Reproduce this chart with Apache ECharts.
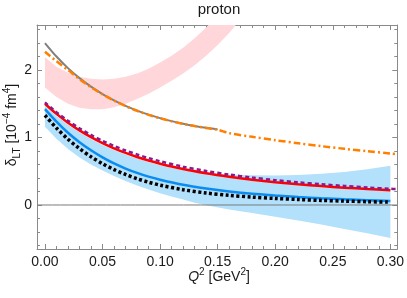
<!DOCTYPE html>
<html><head><meta charset="utf-8">
<script src="https://cdn.jsdelivr.net/npm/echarts@6/dist/echarts.min.js"></script>
<style>html,body{margin:0;padding:0;background:#fff}#c{width:407px;height:298px}</style>
</head><body><div id="c"></div>
<script>
// ---- tick labels / tick positions ----
const xMajor = [0, 0.05, 0.10, 0.15, 0.20, 0.25, 0.30];
const xTickLabels = ['0.00', '0.05', '0.10', '0.15', '0.20', '0.25', '0.30'];
const xMinor = [0.01,0.02,0.03,0.04,0.06,0.07,0.08,0.09,0.11,0.12,0.13,0.14,0.16,0.17,0.18,0.19,0.21,0.22,0.23,0.24,0.26,0.27,0.28,0.29];
const yMajor = [0, 1, 2];
const yTickLabels = ['0', '1', '2'];
const yMinor = [-0.6,-0.4,-0.2,0.2,0.4,0.6,0.8,1.2,1.4,1.6,1.8,2.2,2.4,2.6];

// ---- pink band ----
const pinkX     = [0,0.01,0.02,0.03,0.04,0.05,0.06,0.07,0.08,0.09,0.10,0.11,0.12,0.13,0.14,0.15,0.16,0.17];
const pinkUpper = [2.19,2.05,1.96,1.90,1.87,1.86,1.87,1.90,1.95,2.02,2.11,2.21,2.33,2.47,2.63,2.81,3.00,3.20];
const pinkLower = [1.74,1.60,1.50,1.44,1.42,1.42,1.45,1.50,1.57,1.65,1.74,1.84,1.95,2.07,2.21,2.37,2.55,2.75];

// ---- gray solid ----
const grayX = [0,0.01,0.02,0.03,0.04,0.05,0.06,0.07,0.08,0.09,0.10,0.11,0.12,0.13,0.14,0.15];
const grayY = [2.40,2.20,2.028,1.88,1.753,1.644,1.55,1.469,1.399,1.339,1.287,1.243,1.205,1.172,1.144,1.12];

// ---- orange dash-dot ----
const orangeX = [0,0.01,0.02,0.03,0.04,0.05,0.06,0.07,0.08,0.09,0.10,0.11,0.12,0.13,0.14,0.15,0.16,0.18,0.20,0.22,0.24,0.26,0.28,0.30,0.306];
const orangeY = [2.27,2.13,2.00,1.865,1.745,1.64,1.547,1.466,1.396,1.336,1.284,1.24,1.202,1.169,1.141,1.115,1.065,1.01,0.96,0.915,0.872,0.833,0.797,0.763,0.753];

// ---- lower curves ----
const qX = [0,0.01,0.02,0.03,0.04,0.05,0.06,0.07,0.08,0.09,0.10,0.12,0.14,0.16,0.18,0.20,0.22,0.24,0.26,0.28,0.30];
const redY    = [1.50,1.35,1.22,1.105,1.005,0.917,0.84,0.772,0.712,0.659,0.612,0.533,0.47,0.418,0.374,0.337,0.306,0.28,0.257,0.238,0.22];
const purpleX = [0,0.01,0.02,0.03,0.04,0.05,0.06,0.07,0.08,0.09,0.10,0.12,0.14,0.16,0.18,0.20,0.22,0.24,0.26,0.28,0.30,0.306];
const purpleY = [1.52,1.375,1.248,1.136,1.038,0.951,0.875,0.808,0.748,0.695,0.648,0.568,0.504,0.451,0.406,0.368,0.335,0.307,0.282,0.26,0.24,0.236];
const blueY   = [1.42,1.235,1.07,0.93,0.81,0.705,0.615,0.54,0.475,0.42,0.375,0.30,0.245,0.20,0.165,0.14,0.118,0.10,0.085,0.072,0.06];
const blackY  = [1.33,1.14,0.975,0.835,0.715,0.612,0.525,0.452,0.39,0.338,0.294,0.226,0.178,0.143,0.117,0.097,0.081,0.068,0.058,0.049,0.042];

// ---- blue band ----
const bandX     = [0,0.01,0.02,0.03,0.04,0.05,0.06,0.07,0.08,0.09,0.10,0.11,0.12,0.13,0.14,0.16,0.18,0.20,0.22,0.24,0.26,0.28,0.30];
const blueUpper = [1.47,1.32,1.19,1.077,0.978,0.89,0.814,0.747,0.688,0.636,0.59,0.552,0.52,0.494,0.475,0.452,0.44,0.438,0.445,0.462,0.49,0.53,0.58];
const blueLower = [1.16,0.98,0.83,0.705,0.60,0.51,0.43,0.355,0.29,0.23,0.175,0.125,0.08,0.035,-0.005,-0.065,-0.12,-0.175,-0.23,-0.29,-0.355,-0.42,-0.49];

const XMIN = -0.0069, XMAX = 0.306, YMIN = -0.652, YMAX = 2.667;
const FRAME = '#8a8a8a';
const TXT = '#1a1a1a';
const FONT = 'Liberation Sans';

const zip = (xs, ys) => xs.map((x, i) => [x, ys[i]]);

function xAx(position, ticks, len, showLine, labels) {
  return {
    type: 'value', position, min: XMIN, max: XMAX,
    axisLine: { show: showLine, onZero: false, lineStyle: { color: FRAME, width: 1 } },
    axisTick: { show: true, inside: true, length: len, customValues: ticks, lineStyle: { color: FRAME, width: 1 } },
    axisLabel: labels ? { show: true, customValues: ticks, margin: 6, fontSize: 14, color: TXT, fontFamily: FONT,
      formatter: v => xTickLabels[xMajor.findIndex(t => Math.abs(t - v) < 1e-9)] } : { show: false },
    splitLine: { show: false }, minorTick: { show: false }
  };
}
function yAx(position, ticks, len, showLine, labels) {
  return {
    type: 'value', position, min: YMIN, max: YMAX,
    axisLine: { show: showLine, onZero: false, lineStyle: { color: FRAME, width: 1 } },
    axisTick: { show: true, inside: true, length: len, customValues: ticks, lineStyle: { color: FRAME, width: 1 } },
    axisLabel: labels ? { show: true, customValues: ticks, margin: 5, fontSize: 14, color: TXT, fontFamily: FONT,
      formatter: v => yTickLabels[yMajor.findIndex(t => Math.abs(t - v) < 1e-9)] } : { show: false },
    splitLine: { show: false }, minorTick: { show: false }
  };
}

function band(xs, lo, hi, color, z) {
  return {
    type: 'custom', z, silent: true, xAxisIndex: 0, yAxisIndex: 0,
    data: [[xs[0], lo[0]]],
    renderItem(params, api) {
      const pts = [];
      for (let i = 0; i < xs.length; i++) pts.push(api.coord([xs[i], hi[i]]));
      for (let i = xs.length - 1; i >= 0; i--) pts.push(api.coord([xs[i], lo[i]]));
      const cs = params.coordSys;
      return {
        type: 'polygon', shape: { points: pts }, style: { fill: color },
        clipPath: { type: 'rect', shape: { x: cs.x, y: cs.y, width: cs.width, height: cs.height } }
      };
    }
  };
}
function line(xs, ys, color, width, type, z) {
  return {
    type: 'line', data: zip(xs, ys), xAxisIndex: 0, yAxisIndex: 0, z,
    showSymbol: false, symbol: 'none', smooth: 0.3, silent: true,
    lineStyle: { color, width, type, cap: 'butt' }, clip: true
  };
}

const chart = echarts.init(document.getElementById('c'), null, { renderer: 'canvas' });
chart.setOption({
  animation: false,
  backgroundColor: '#fff',
  grid: { left: 37, right: 7, top: 25, bottom: 49, containLabel: false },
  xAxis: [xAx('bottom', xMajor, 5, true, true), xAx('bottom', xMinor, 3, false, false),
          xAx('top', xMajor, 5, true, false), xAx('top', xMinor, 3, false, false)],
  yAxis: [yAx('left', yMajor, 5, true, true), yAx('left', yMinor, 3, false, false),
          yAx('right', yMajor, 5, true, false), yAx('right', yMinor, 3, false, false)],
  series: [
    band(pinkX, pinkLower, pinkUpper, '#ffd7da', 1),
    band(bandX, blueLower, blueUpper, '#b3e0fa', 2),
    line([XMIN, XMAX], [0, 0], '#7a7a7a', 1, 'solid', 9),
    line(grayX, grayY, '#808080', 2, 'solid', 3),
    line(orangeX, orangeY, '#ff8000', 2.5, [7, 3, 2, 3], 4),
    line(qX, blueY, '#0a8cf0', 2.5, 'solid', 3),
    line(qX, redY, '#ff0000', 2.5, 'solid', 3),
    line(purpleX, purpleY, '#8b1a8b', 2.5, [4, 3], 4),
    line(qX, blackY, '#000000', 3.5, [3, 2.5], 5)
  ],
  graphic: [
    { type: 'text', x: 219, y: 10, style: { text: 'proton', font: '15px ' + FONT, fill: TXT, align: 'center', verticalAlign: 'middle' } },
    { type: 'text', x: 219, y: 277, style: {
        text: '{i|Q}{sup|2} [GeV{sup|2}]', align: 'center', verticalAlign: 'middle', fill: TXT, font: '14px ' + FONT,
        rich: {
          i: { fontStyle: 'italic', fontSize: 14, fontFamily: FONT, lineHeight: 20, verticalAlign: 'middle', fill: TXT },
          sup: { fontSize: 10, fontFamily: FONT, verticalAlign: 'top', fill: TXT }
        } } },
    { type: 'text', x: 12, y: 125, rotation: Math.PI / 2, style: {
        text: '{n|δ}{sub|LT}{n| [10}{sup|−4}{n| fm}{sup|4}{n|]}', align: 'center', verticalAlign: 'middle', fill: TXT,
        font: '14px ' + FONT,
        rich: {
          n: { fontSize: 14, fontFamily: FONT, lineHeight: 20, verticalAlign: 'middle', fill: TXT },
          sub: { fontSize: 10, fontFamily: FONT, verticalAlign: 'bottom', fill: TXT },
          sup: { fontSize: 10, fontFamily: FONT, verticalAlign: 'top', fill: TXT }
        } } }
  ]
});
</script></body></html>
